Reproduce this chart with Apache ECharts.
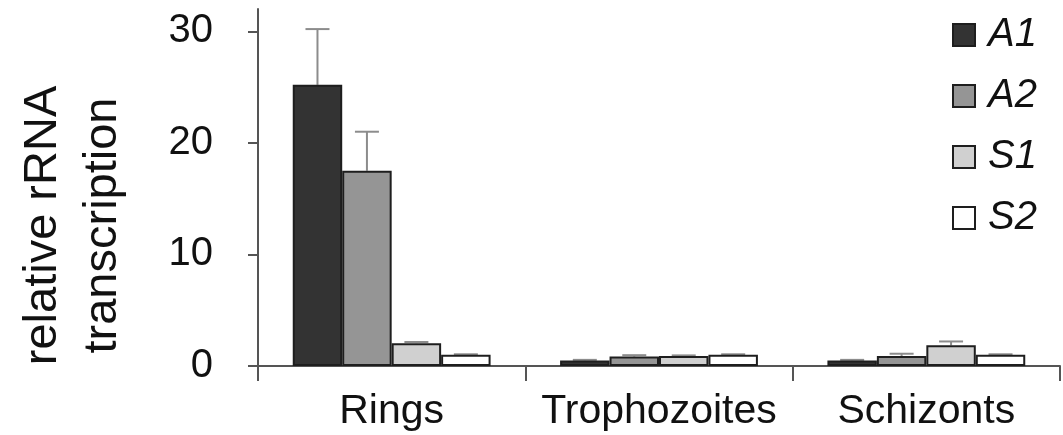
<!DOCTYPE html>
<html>
<head>
<meta charset="utf-8">
<script src="https://cdn.jsdelivr.net/npm/echarts@6/dist/echarts.min.js"></script>
<style>
html,body{margin:0;padding:0;background:#fff;}
#chart{width:1063px;height:435px;}
</style>
</head>
<body>
<div id="chart"></div>
<script>
var categories = ['Rings', 'Trophozoites', 'Schizonts'];
var seriesNames = ['A1', 'A2', 'S1', 'S2'];
var valuesA1 = [25.2, 0.5, 0.5];
var valuesA2 = [17.5, 0.85, 0.9];
var valuesS1 = [2.05, 0.9, 1.85];
var valuesS2 = [1.0, 1.0, 1.0];
var errorsA1 = [5.0, 0.05, 0.05];
var errorsA2 = [3.5, 0.12, 0.2];
var errorsS1 = [0.1, 0.05, 0.35];
var errorsS2 = [0.05, 0.05, 0.05];
var yTicks = [0, 10, 20, 30];

var seriesValues = [valuesA1, valuesA2, valuesS1, valuesS2];
var seriesErrors = [errorsA1, errorsA2, errorsS1, errorsS2];
var colors = ['#333333', '#959595', '#d0d0d0', '#ffffff'];
var catGap = 0.26;

var chart = echarts.init(document.getElementById('chart'));

var series = seriesNames.map(function (n, i) {
  return {
    name: n,
    type: 'bar',
    data: seriesValues[i],
    barGap: '0%',
    barCategoryGap: (catGap * 100) + '%',
    itemStyle: { color: colors[i], borderColor: '#1e1e1e', borderWidth: 2 },
    emphasis: { disabled: true },
    z: 2
  };
});

var errData = [];
seriesValues.forEach(function (vals, si) {
  vals.forEach(function (v, ci) {
    errData.push([ci, v, seriesErrors[si][ci], si]);
  });
});

series.push({
  type: 'custom',
  name: 'err',
  data: errData,
  z: 1,
  renderItem: function (params, api) {
    var ci = api.value(0), v = api.value(1), e = api.value(2), si = api.value(3);
    var band = api.size([1, 0])[0];
    var bw = band * (1 - catGap) / 4;
    var base = api.coord([ci, v]);
    var top = api.coord([ci, v + e]);
    var x = base[0] + (si - 1.5) * bw;
    var cap = 12;
    var style = { stroke: '#8c8c8c', lineWidth: 2 };
    return {
      type: 'group',
      children: [
        { type: 'line', shape: { x1: x, y1: base[1], x2: x, y2: top[1] }, style: style },
        { type: 'line', shape: { x1: x - cap, y1: top[1], x2: x + cap, y2: top[1] }, style: style }
      ]
    };
  }
});

chart.setOption({
  animation: false,
  textStyle: { fontFamily: 'Liberation Sans, Arial, sans-serif', color: '#111' },
  grid: { left: 258, right: 3, top: 9, bottom: 69, containLabel: false },
  legend: {
    data: seriesNames,
    orient: 'vertical',
    left: 952,
    top: 15,
    padding: 0,
    itemWidth: 22,
    itemHeight: 22,
    itemGap: 21,
    icon: 'rect',
    selectedMode: false,
    textStyle: { fontSize: 40, fontStyle: 'italic', color: '#111', lineHeight: 40, padding: [0, 0, 0, 8] }
  },
  xAxis: {
    type: 'category',
    data: categories,
    boundaryGap: true,
    axisLine: { lineStyle: { color: '#555', width: 2 } },
    axisTick: { show: true, length: 15, alignWithLabel: false, lineStyle: { color: '#555', width: 2 } },
    axisLabel: { fontSize: 41, color: '#111', margin: 25, interval: 0, hideOverlap: false }
  },
  yAxis: {
    type: 'value',
    min: 0,
    max: 32,
    interval: 10,
    name: 'relative rRNA\ntranscription',
    nameLocation: 'middle',
    nameRotate: 90,
    nameGap: 125,
    nameTextStyle: { fontSize: 47, lineHeight: 60, color: '#111', padding: [0, 76, 0, 0] },
    splitLine: { show: false },
    axisLine: { show: true, lineStyle: { color: '#555', width: 2 } },
    axisTick: { show: true, length: 10, customValues: yTicks, lineStyle: { color: '#555', width: 2 } },
    axisLabel: {
      fontSize: 40, color: '#111', margin: 45, customValues: yTicks,
      formatter: function (v) { return yTicks.indexOf(v) >= 0 ? String(v) : ''; }
    }
  },
  series: series
});
</script>
</body>
</html>
